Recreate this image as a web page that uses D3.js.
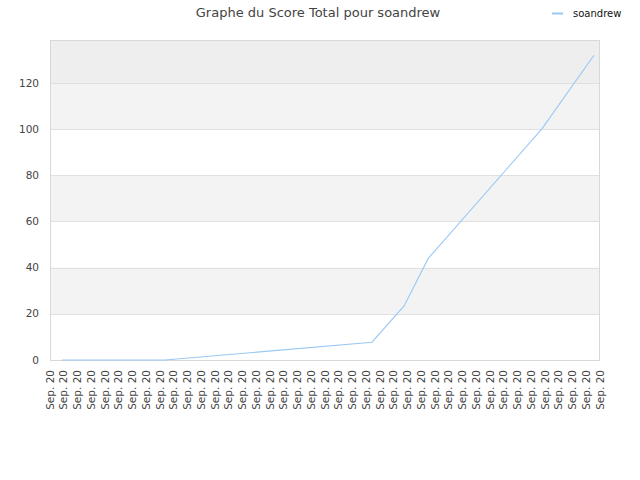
<!DOCTYPE html>
<html><head><meta charset="utf-8">
<script src="https://cdn.jsdelivr.net/npm/d3@7"></script>
<style>body{margin:0;background:#fff}svg{display:block}</style>
</head><body>
<svg id="c" width="640" height="480"></svg>
<script>
const xLabels = Array.from({length:41}, () => "Sep. 20");
// positions along the label axis (fractional label index) and total score
const pointPos = [0.87, 8.36, 23.42, 25.75, 27.51, 35.76, 39.56];
const scores   = [0, 0, 7.7, 23.4, 44, 100, 132];
const yTicks = [0, 20, 40, 60, 80, 100, 120];
const seriesName = "soandrew";
const title = "Graphe du Score Total pour soandrew";

const svg = d3.select("#c");
const m = {l:50, r:600, t:40, b:360};
const x = d3.scaleLinear().domain([0, xLabels.length-1]).range([m.l, m.r]);
const y = d3.scaleLinear().domain([0, 138.6]).range([m.b, m.t]);

// bands
const bands = [[20,40,"#f3f3f3"],[60,80,"#f3f3f3"],[100,120,"#f3f3f3"],[120,138.6,"#eeeeee"]];
svg.selectAll("rect.band").data(bands).enter().append("rect")
  .attr("x", m.l).attr("width", m.r-m.l)
  .attr("y", d=>y(d[1])).attr("height", d=>y(d[0])-y(d[1]))
  .attr("fill", d=>d[2]);
// gridlines
svg.selectAll("line.grid").data(yTicks.slice(1)).enter().append("line")
  .attr("x1", m.l).attr("x2", m.r)
  .attr("y1", d=>Math.round(y(d))+0.5).attr("y2", d=>Math.round(y(d))+0.5)
  .attr("stroke", "#e0e0e0");
// frame
svg.append("rect").attr("x", m.l+0.5).attr("y", m.t+0.5)
  .attr("width", m.r-m.l-1).attr("height", m.b-m.t)
  .attr("fill","none").attr("stroke","#d8d8d8");

// y labels
svg.selectAll("text.yl").data(yTicks).enter().append("text")
  .attr("x", 39).attr("y", d=>y(d)).attr("dy","0.35em")
  .attr("text-anchor","end").attr("font-family","DejaVu Sans").attr("font-size","10.5px")
  .attr("fill","#444").text(d=>d);

// x labels
svg.selectAll("text.xl").data(xLabels).enter().append("text")
  .attr("transform", (d,i)=>`translate(${x(i)},370) rotate(-90)`)
  .attr("dy","0.35em").attr("text-anchor","end")
  .attr("font-family","DejaVu Sans").attr("font-size","10.5px")
  .attr("fill","#444").text(d=>d);

// line
const pts = pointPos.map((p,i)=>[p, scores[i]]);
svg.append("path").datum(pts)
  .attr("d", d3.line().x(d=>x(d[0])).y(d=>y(d[1])))
  .attr("fill","none").attr("stroke","#99c8f5").attr("stroke-width",1.1);

// title
svg.append("text").attr("x", 318).attr("y", 17).attr("text-anchor","middle")
  .attr("font-family","DejaVu Sans").attr("font-size","13px").attr("fill","#444").text(title);
// legend
svg.append("line").attr("x1",552).attr("x2",563).attr("y1",13.5).attr("y2",13.5)
  .attr("stroke","#99c8f5").attr("stroke-width",2);
svg.append("text").attr("x",573).attr("y",13).attr("dy","0.35em")
  .attr("font-family","DejaVu Sans").attr("font-size","10px").attr("fill","#111").text(seriesName);
</script>
</body></html>
